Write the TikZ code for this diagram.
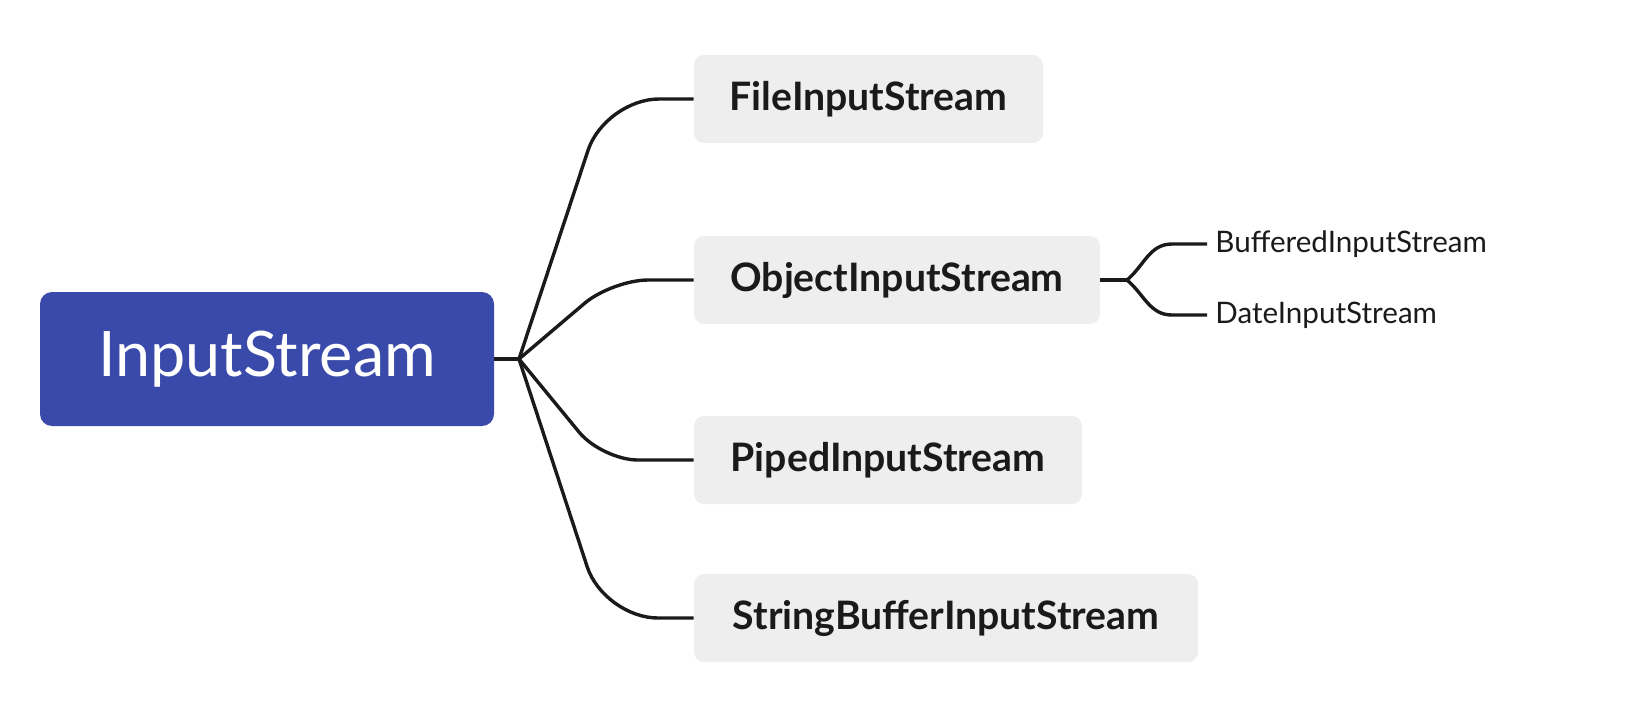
\documentclass[tikz,border=0pt]{standalone}
\usepackage{fontspec}
\setmainfont{Lato}
\definecolor{rootblue}{RGB}{58,74,170}
\definecolor{topicgray}{RGB}{238,238,238}
\definecolor{ink}{RGB}{26,26,26}
\begin{document}
\begin{tikzpicture}[x=0.5pt,y=-0.5pt,
  rootbox/.style={fill=rootblue, text=white, rounded corners=6pt, minimum width=227pt, minimum height=67pt, font=\fontsize{31.4}{36}\selectfont, inner sep=0pt},
  topic/.style={fill=topicgray, text=ink, rounded corners=5pt, minimum height=44pt, font=\fontsize{19.6}{23}\selectfont\bfseries, inner sep=0pt},
  subtopic/.style={text=ink, anchor=west, inner xsep=4pt, inner ysep=0pt, font=\fontsize{14.8}{17}\selectfont},
  conn/.style={draw=ink, line width=1.7pt}
]
\useasboundingbox (0,0) rectangle (1636,720);
\node[rootbox] (root) at (267,359) {InputStream};
\node[topic, minimum width=174.5pt] (file) at (868.5,99) {FileInputStream};
\node[topic, minimum width=203pt] (obj) at (897,280) {ObjectInputStream};
\node[topic, minimum width=194pt] (piped) at (888,460) {PipedInputStream};
\node[topic, minimum width=252pt] (sbuf) at (946,618) {StringBufferInputStream};
\node[subtopic] (buff) at (1207,244) {BufferedInputStream};
\node[subtopic] (date) at (1207,315) {DateInputStream};
\coordinate (j) at (519,359);
\coordinate (j2) at (1127,280);
\draw[conn] (root.east) -- (j);
\draw[conn, rounded corners=27pt] (j) -- (605,99) -- (file.west);
\draw[conn, rounded corners=18pt] (j) -- (612,280) -- (obj.west);
\draw[conn, rounded corners=18pt] (j) -- (602,460) -- (piped.west);
\draw[conn, rounded corners=27pt] (j) -- (604,618) -- (sbuf.west);
\draw[conn] (obj.east) -- (j2);
\draw[conn] (j2) to[out=40,in=180] (1172,244) -- (buff.west);
\draw[conn] (j2) to[out=-40,in=180] (1172,315) -- (date.west);
\end{tikzpicture}
\end{document}
